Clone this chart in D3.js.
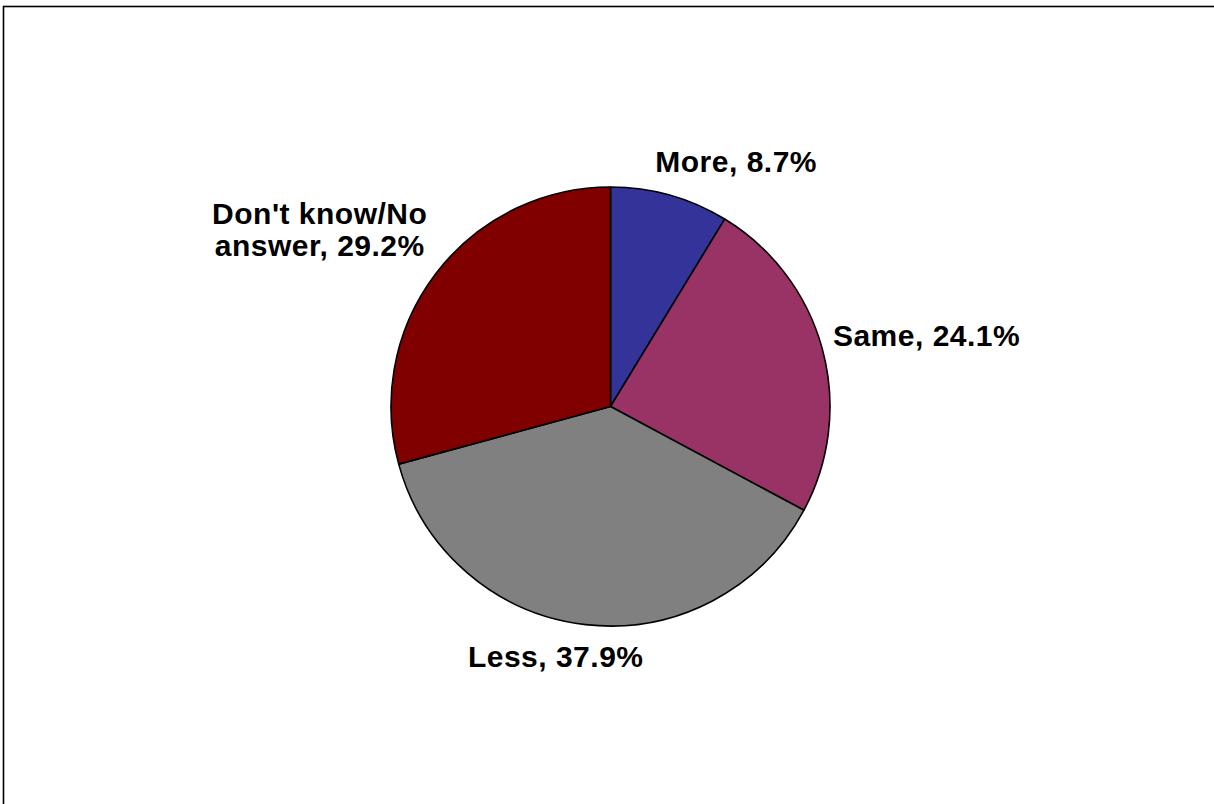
<!DOCTYPE html>
<html>
<head>
<meta charset="utf-8">
<script src="https://cdn.jsdelivr.net/npm/d3@7"></script>
<style>
  html, body { margin: 0; padding: 0; background: #fff; }
  svg { display: block; }
  .lbl { font-family: "Liberation Sans", Arial, sans-serif; font-weight: bold; font-size: 30px; fill: #000; letter-spacing: 0.5px; }
</style>
</head>
<body>
<svg id="chart" width="1214" height="804"></svg>
<script>
// Survey responses (share of respondents, %)
const categories = ["More", "Same", "Less", "Don't know/No answer"];
const values = [8.7, 24.1, 37.9, 29.2];
const colors = ["#333399", "#993366", "#808080", "#800000"];
// Label text lines per slice
const labelLines = [["More, 8.7%"], ["Same, 24.1%"], ["Less, 37.9%"], ["Don't know/No", "answer, 29.2%"]];

const W = 1214, H = 804;
const svg = d3.select("#chart");

// chart frame (open on the right and bottom)
svg.append("rect")
  .attr("x", 3.5).attr("y", 6.5)
  .attr("width", W + 10).attr("height", H + 10)
  .attr("fill", "none").attr("stroke", "#000").attr("stroke-width", 1.6);

const cx = 610.5, cy = 406.5, r = 219.5;
const data = categories.map((c, i) => ({ name: c, value: values[i], color: colors[i], lines: labelLines[i] }));

const pie = d3.pie().value(d => d.value).sort(null).startAngle(0).endAngle(2 * Math.PI);
const arcs = pie(data);
const arc = d3.arc().innerRadius(0).outerRadius(r);

const g = svg.append("g").attr("transform", `translate(${cx},${cy})`);
g.selectAll("path.slice")
  .data(arcs)
  .join("path")
  .attr("class", "slice")
  .attr("d", arc)
  .attr("fill", d => d.data.color)
  .attr("stroke", "#000")
  .attr("stroke-width", 1.6)
  .attr("stroke-linejoin", "round");

// Labels: box sits just outside the slice's outer edge, pushed outward along the mid-angle
const lineH = 32;
const clamp = v => Math.max(-1, Math.min(1, v));
arcs.forEach(a => {
  const mid = (a.startAngle + a.endAngle) / 2;
  const sx = Math.sin(mid), sy = -Math.cos(mid);
  const px = cx + (r + 11) * sx, py = cy + (r + 17) * sy;
  const t = svg.append("text").attr("class", "lbl").attr("text-anchor", "middle");
  a.data.lines.forEach((ln, i) => t.append("tspan").attr("x", 0).attr("dy", i === 0 ? 0 : lineH).text(ln));
  const bb = t.node().getBBox();
  const w = bb.width, h = a.data.lines.length * lineH;
  const bx = px + clamp(sx * 2.9) * w / 2;
  const by = py + clamp(sy * 2) * h / 2;
  // first baseline relative to box centre
  const base0 = by - h / 2 + lineH * 0.8;
  t.attr("transform", `translate(${bx},${base0})`);
});
</script>
</body>
</html>
